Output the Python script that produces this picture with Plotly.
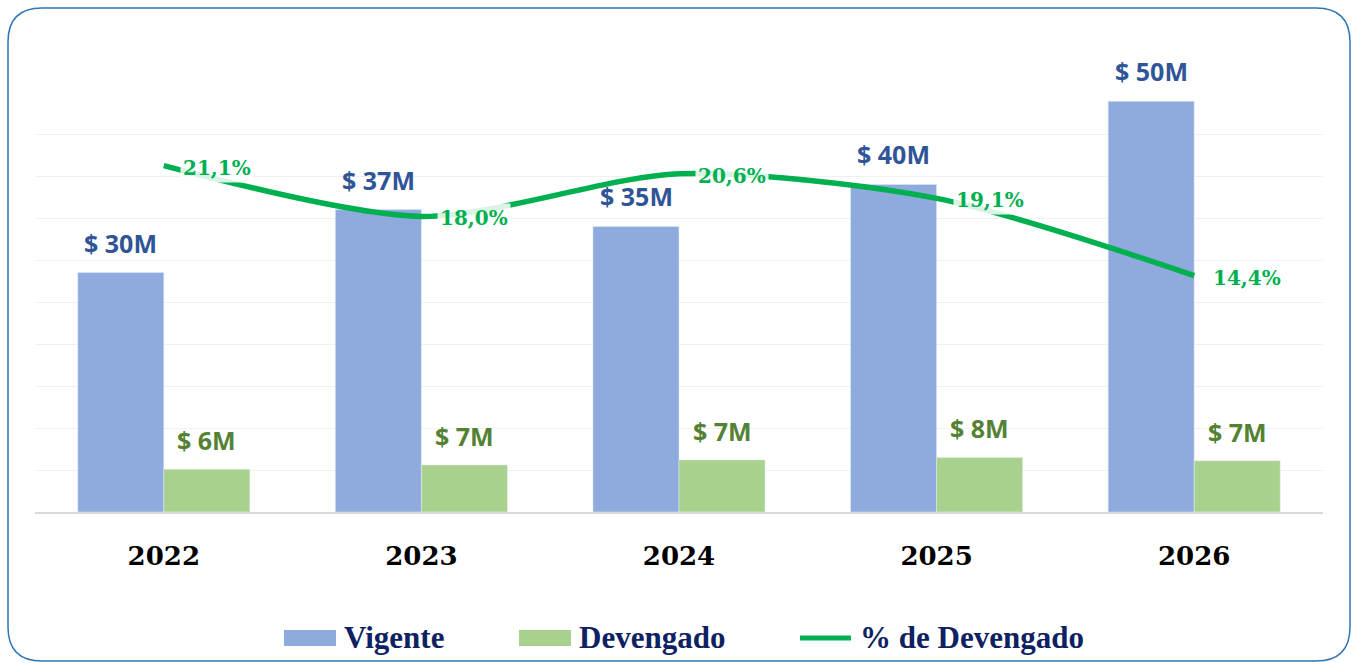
import plotly.graph_objects as go

years = ["2022", "2023", "2024", "2025", "2026"]
vigente = [28.5, 36.0, 34.0, 39.0, 48.9]
devengado = [5.1, 5.6, 6.2, 6.5, 6.1]
pct_devengado = [21.1, 18.0, 20.6, 19.1, 14.4]
vigente_labels = ["$ 30M", "$ 37M", "$ 35M", "$ 40M", "$ 50M"]
devengado_labels = ["$ 6M", "$ 7M", "$ 7M", "$ 8M", "$ 7M"]
pct_labels = ["21,1%", "18,0%", "20,6%", "19,1%", "14,4%"]
series_names = ["Vigente", "Devengado", "% de Devengado"]

W, H = 1352, 663
L, R, T, B = 35, 1323, 40, 512

def X(px):
    return (px - L) / (R - L)

def Y(py):
    return (B - py) / (B - T)

BLUE = "#8FAADC"
GREEN = "#A9D18E"
LINE = "#00B050"
NAVY = "#0D2163"

fig = go.Figure()
fig.add_trace(go.Bar(x=years, y=vigente, name=series_names[0], marker_color=BLUE, showlegend=False))
fig.add_trace(go.Bar(x=years, y=devengado, name=series_names[1], marker_color=GREEN, showlegend=False))
fig.add_trace(go.Scatter(x=years, y=pct_devengado, name=series_names[2], yaxis="y2", showlegend=False,
                         mode="lines", line=dict(color=LINE, width=5.5, shape="spline", smoothing=0.8)))

ann = []
for i, yv in enumerate(years):
    ann.append(dict(x=i, y=vigente[i], xref="x", yref="y", text=vigente_labels[i],
                    showarrow=False, xshift=-43, yshift=30, yanchor="middle",
                    font=dict(family="Open Sans", size=25, color="#2F5597", weight="bold")))
    ann.append(dict(x=i, y=devengado[i], xref="x", yref="y", text=devengado_labels[i],
                    showarrow=False, xshift=43, yshift=29, yanchor="middle",
                    font=dict(family="Open Sans", size=25, color="#548235", weight="bold")))
    ann.append(dict(x=i, y=pct_devengado[i], xref="x", yref="y2", text=pct_labels[i],
                    showarrow=False, xshift=16, yshift=-2, xanchor="left", yanchor="middle",
                    bgcolor="rgba(255,255,255,0.85)", borderpad=2,
                    font=dict(family="DejaVu Serif", size=20, color=LINE, weight="bold")))

# legend (swatches + real text)
legend_text_x = [342, 577, 858]
for name, tx in zip(series_names, legend_text_x):
    ann.append(dict(x=X(tx), y=Y(637), xref="paper", yref="paper", text=name, showarrow=False,
                    xanchor="left", yanchor="middle",
                    font=dict(family="Liberation Serif", size=31, color=NAVY, weight="bold")))

r = 34
x0, x1, y0, y1 = 8, 1350, 8, 661
path = (f"M {X(x0+r)},{Y(y0)} L {X(x1-r)},{Y(y0)} Q {X(x1)},{Y(y0)} {X(x1)},{Y(y0+r)} "
        f"L {X(x1)},{Y(y1-r)} Q {X(x1)},{Y(y1)} {X(x1-r)},{Y(y1)} "
        f"L {X(x0+r)},{Y(y1)} Q {X(x0)},{Y(y1)} {X(x0)},{Y(y1-r)} "
        f"L {X(x0)},{Y(y0+r)} Q {X(x0)},{Y(y0)} {X(x0+r)},{Y(y0)} Z")

shapes = [
    dict(type="path", path=path, xref="paper", yref="paper",
         line=dict(color="#2E75B6", width=1.5), layer="below"),
    dict(type="rect", xref="paper", yref="paper", x0=X(284), x1=X(336), y0=Y(646), y1=Y(630),
         fillcolor=BLUE, line=dict(width=0)),
    dict(type="rect", xref="paper", yref="paper", x0=X(519), x1=X(571), y0=Y(646), y1=Y(630),
         fillcolor=GREEN, line=dict(width=0)),
    dict(type="line", xref="paper", yref="paper", x0=X(800), x1=X(851), y0=Y(638), y1=Y(638),
         line=dict(color=LINE, width=5)),
]

ymax = (B - T) / 8.4
y2max = (B - T) / 16.42

fig.update_layout(
    width=W, height=H,
    margin=dict(l=L, r=W - R, t=T, b=H - B, autoexpand=False),
    paper_bgcolor="white", plot_bgcolor="white",
    barmode="group", bargap=0.332, bargroupgap=0,
    showlegend=False,
    xaxis=dict(type="category", range=[-0.5, 4.5], showgrid=False, showline=True,
               linecolor="#D9D9D9", linewidth=2,
               ticks="", ticklabelstandoff=20, automargin=False,
               tickfont=dict(family="DejaVu Serif", size=26, color="black", weight="bold")),
    yaxis=dict(range=[0, ymax], tickvals=[5, 10, 15, 20, 25, 30, 35, 40, 45],
               showticklabels=False, gridcolor="#F0F0F0", gridwidth=1, zeroline=False,
               automargin=False),
    yaxis2=dict(range=[0, y2max], overlaying="y", side="right", showgrid=False,
                showticklabels=False, zeroline=False, automargin=False),
    annotations=ann,
    shapes=shapes,
)

fig.write_html("out.html", config={"displayModeBar": False},
               post_script="document.body.style.margin='0';")
